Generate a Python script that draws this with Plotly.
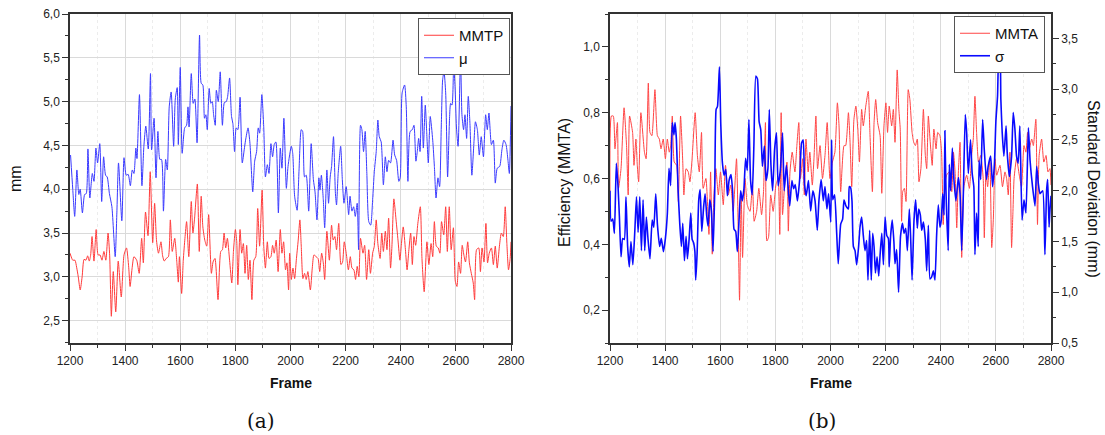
import plotly.graph_objects as go

# ---------------- Panel (a): MMTP and mean (mm) ----------------
mu_frames = [1202, 1210, 1217, 1225, 1232, 1237, 1245, 1253, 1259, 1265, 1272, 1281, 1287, 1294, 1300, 1308,
             1315, 1322, 1329, 1335, 1343, 1352, 1364, 1370, 1376, 1388, 1396, 1404, 1411, 1419, 1426, 1432,
             1439, 1443, 1452, 1461, 1468, 1475, 1484, 1492, 1496, 1505, 1512, 1519, 1526, 1532, 1539, 1547,
             1553, 1560, 1567, 1576, 1582, 1589, 1593, 1600, 1607, 1616, 1623, 1628, 1632, 1640, 1647, 1653,
             1661, 1670, 1676, 1682, 1688, 1693, 1698, 1705, 1711, 1716, 1721, 1727, 1731, 1738, 1745, 1753,
             1760, 1767, 1772, 1779, 1786, 1791, 1797, 1803, 1809, 1817, 1825, 1832, 1837, 1846, 1853, 1863,
             1870, 1877, 1883, 1888, 1896, 1903, 1909, 1916, 1922, 1929, 1935, 1941, 1947, 1956, 1963, 1969,
             1976, 1985, 1991, 2003, 2008, 2015, 2024, 2031, 2039, 2044, 2051, 2057, 2066, 2075, 2083, 2089,
             2096, 2103, 2107, 2112, 2119, 2124, 2132, 2138, 2144, 2149, 2156, 2163, 2167, 2173, 2182, 2188,
             2194, 2202, 2211, 2216, 2223, 2229, 2235, 2242, 2247, 2254, 2259, 2265, 2271, 2277, 2284, 2291,
             2298, 2304, 2311, 2317, 2322, 2329, 2337, 2344, 2350, 2356, 2363, 2372, 2378, 2385, 2393, 2398,
             2405, 2414, 2420, 2426, 2434, 2442, 2448, 2455, 2460, 2465, 2470, 2476, 2482, 2489, 2494, 2500,
             2507, 2516, 2522, 2528, 2535, 2541, 2547, 2552, 2557, 2563, 2570, 2577, 2581, 2586, 2592, 2597,
             2602, 2608, 2617, 2622, 2628, 2633, 2639, 2645, 2651, 2658, 2666, 2671, 2678, 2685, 2692, 2700,
             2708, 2714, 2720, 2729, 2736, 2743, 2750, 2759, 2767, 2774, 2782, 2789, 2794, 2800]
mu_values = [4.39, 4.00, 3.69, 4.22, 3.94, 4.00, 3.73, 3.94, 3.95, 4.46, 3.90, 4.18, 4.09, 4.47, 4.30, 4.52,
             3.86, 4.37, 4.16, 4.14, 3.95, 3.80, 3.23, 3.73, 4.30, 3.64, 4.36, 4.16, 4.17, 4.04, 4.22, 4.18,
             4.47, 4.35, 5.08, 4.04, 4.49, 4.72, 4.46, 5.32, 4.45, 4.81, 4.13, 4.66, 4.34, 4.34, 3.75, 4.34,
             4.22, 4.94, 5.11, 4.49, 5.03, 5.16, 4.51, 5.39, 4.41, 4.70, 4.73, 4.94, 4.71, 5.32, 4.98, 5.03,
             4.53, 5.76, 5.21, 5.19, 4.81, 4.85, 4.68, 5.15, 4.98, 5.00, 4.85, 4.73, 5.13, 5.00, 5.34, 4.73,
             4.99, 5.00, 5.06, 5.27, 4.83, 4.75, 4.43, 4.70, 4.68, 5.05, 4.30, 4.45, 4.56, 4.70, 4.52, 3.97,
             4.32, 4.43, 4.70, 4.64, 5.08, 4.70, 4.14, 4.28, 4.18, 4.52, 4.37, 4.51, 4.54, 3.73, 4.47, 4.24,
             4.81, 4.01, 4.26, 4.49, 4.41, 3.92, 3.76, 4.22, 4.68, 4.66, 4.14, 4.16, 3.75, 4.52, 4.11, 3.97,
             3.65, 4.13, 3.99, 4.16, 3.88, 3.56, 4.22, 3.84, 4.14, 4.26, 4.60, 3.95, 3.82, 4.18, 4.49, 4.11,
             3.84, 4.03, 3.71, 3.92, 3.75, 3.80, 3.69, 3.84, 3.31, 4.73, 4.68, 4.43, 4.66, 4.18, 3.63, 3.59,
             3.88, 4.20, 4.43, 4.79, 4.60, 4.54, 4.05, 4.37, 4.20, 4.33, 4.30, 4.56, 4.39, 4.33, 4.09, 4.13,
             5.10, 5.19, 4.94, 4.09, 4.66, 4.68, 4.73, 4.32, 4.43, 4.58, 4.43, 5.06, 4.47, 4.96, 4.66, 4.30,
             4.83, 4.56, 4.26, 3.90, 4.13, 4.03, 4.71, 5.25, 5.34, 5.10, 4.14, 4.81, 4.98, 4.96, 5.40, 5.17,
             4.71, 4.49, 5.51, 4.85, 4.68, 4.85, 4.58, 5.06, 4.75, 4.16, 4.56, 4.77, 4.68, 4.39, 4.60, 4.37,
             4.85, 4.68, 4.87, 4.51, 4.56, 4.07, 4.24, 4.26, 4.45, 4.56, 4.51, 4.33, 4.18, 4.95]

mmtp_frames = [1200, 1210, 1218, 1224, 1230, 1237, 1244, 1251, 1258, 1264, 1270, 1275, 1280, 1287, 1295, 1302,
               1309, 1316, 1323, 1330, 1338, 1344, 1350, 1357, 1366, 1375, 1386, 1396, 1405, 1413, 1418, 1425,
               1432, 1442, 1451, 1460, 1466, 1474, 1483, 1491, 1500, 1507, 1514, 1521, 1530, 1536, 1542, 1549,
               1557, 1564, 1571, 1580, 1588, 1593, 1597, 1605, 1611, 1617, 1623, 1631, 1640, 1646, 1652, 1662,
               1669, 1676, 1682, 1689, 1696, 1703, 1713, 1719, 1726, 1737, 1747, 1753, 1759, 1765, 1771, 1779,
               1787, 1793, 1800, 1805, 1809, 1817, 1823, 1829, 1835, 1841, 1847, 1853, 1860, 1867, 1874, 1881,
               1888, 1897, 1903, 1909, 1916, 1922, 1929, 1935, 1941, 1948, 1955, 1963, 1969, 1975, 1982, 1987,
               1993, 1997, 2003, 2009, 2015, 2021, 2028, 2034, 2039, 2045, 2051, 2057, 2063, 2072, 2079, 2085,
               2093, 2100, 2106, 2113, 2119, 2124, 2132, 2141, 2149, 2155, 2161, 2167, 2175, 2183, 2189, 2195,
               2203, 2210, 2217, 2223, 2230, 2236, 2242, 2248, 2254, 2263, 2269, 2276, 2284, 2290, 2298, 2304,
               2311, 2317, 2325, 2331, 2337, 2344, 2350, 2356, 2363, 2368, 2375, 2383, 2390, 2397, 2402, 2409,
               2417, 2423, 2429, 2436, 2442, 2448, 2454, 2462, 2471, 2477, 2485, 2495, 2502, 2510, 2516, 2522,
               2529, 2536, 2542, 2548, 2556, 2563, 2569, 2576, 2583, 2591, 2598, 2604, 2610, 2617, 2623, 2629,
               2635, 2643, 2649, 2656, 2663, 2668, 2675, 2683, 2689, 2695, 2702, 2709, 2715, 2721, 2729, 2736,
               2743, 2750, 2758, 2765, 2772, 2779, 2785, 2791, 2797, 2800]
mmtp_values = [3.27, 3.19, 3.19, 3.11, 3.00, 2.85, 3.00, 3.20, 3.19, 3.24, 3.18, 3.25, 3.46, 3.18, 3.54, 3.25,
               3.25, 3.19, 3.29, 3.19, 3.50, 3.24, 2.55, 3.06, 2.60, 3.18, 2.77, 3.25, 3.33, 3.11, 2.89, 3.09,
               3.23, 3.19, 3.04, 3.44, 3.16, 3.74, 3.47, 4.20, 3.39, 3.84, 3.41, 3.27, 3.40, 3.24, 3.18, 3.21,
               3.23, 3.65, 3.29, 3.44, 3.15, 2.94, 3.23, 2.81, 3.19, 3.44, 3.63, 3.23, 3.86, 3.50, 3.67, 4.06,
               3.29, 3.92, 3.57, 3.42, 3.35, 3.71, 3.04, 3.17, 3.21, 2.74, 3.29, 3.31, 3.50, 3.33, 3.44, 3.19,
               2.93, 3.29, 3.54, 3.40, 2.91, 3.54, 3.27, 3.38, 3.04, 3.36, 2.97, 3.19, 2.74, 3.19, 3.23, 3.78,
               3.35, 3.99, 3.35, 3.10, 3.40, 3.21, 3.23, 3.36, 3.27, 3.42, 3.06, 3.54, 3.27, 3.40, 3.08, 3.16,
               2.85, 3.27, 2.97, 3.10, 2.98, 3.19, 3.42, 3.65, 3.35, 2.98, 3.04, 2.97, 3.06, 2.85, 3.10, 3.25,
               3.23, 3.21, 3.06, 3.27, 3.16, 2.97, 3.52, 3.19, 3.59, 3.42, 3.46, 3.31, 3.61, 3.14, 3.17, 3.40,
               3.25, 3.08, 3.23, 3.10, 3.08, 2.97, 3.12, 3.00, 3.44, 3.27, 3.36, 2.97, 3.31, 3.04, 3.27, 3.35,
               3.65, 3.38, 3.21, 3.50, 3.29, 3.52, 3.31, 3.67, 3.10, 3.35, 3.89, 3.65, 3.42, 3.19, 3.36, 3.57,
               3.31, 3.08, 3.29, 3.50, 3.14, 3.46, 3.36, 3.61, 3.80, 3.21, 2.83, 3.40, 3.14, 3.38, 3.23, 3.63,
               3.35, 3.33, 3.27, 3.63, 3.48, 3.80, 3.29, 3.80, 3.31, 3.56, 2.95, 2.89, 3.17, 3.04, 3.36, 3.25,
               3.17, 3.40, 3.16, 3.04, 2.93, 2.74, 3.31, 3.33, 3.06, 3.33, 3.17, 3.61, 3.16, 3.27, 3.33, 3.14,
               3.35, 3.10, 3.35, 3.50, 3.46, 3.80, 3.38, 3.08, 3.21, 3.40]

# ---------------- Panel (b): MMTA efficiency and standard deviation ----------------
mmta_frames = [1200, 1205, 1212, 1218, 1227, 1231, 1240, 1251, 1260, 1266, 1271, 1282, 1287, 1294, 1299, 1304,
               1312, 1325, 1331, 1339, 1345, 1352, 1363, 1372, 1379, 1385, 1393, 1401, 1408, 1415, 1420, 1426,
               1433, 1442, 1448, 1456, 1464, 1468, 1476, 1484, 1490, 1497, 1509, 1517, 1524, 1532, 1538, 1548,
               1559, 1565, 1571, 1577, 1584, 1593, 1601, 1611, 1619, 1629, 1638, 1647, 1659, 1665, 1670, 1676,
               1681, 1690, 1698, 1708, 1717, 1723, 1732, 1740, 1750, 1757, 1764, 1769, 1775, 1783, 1792, 1802,
               1810, 1816, 1821, 1826, 1835, 1842, 1847, 1853, 1861, 1871, 1878, 1885, 1891, 1899, 1905, 1911,
               1919, 1925, 1934, 1940, 1947, 1953, 1962, 1971, 1980, 1988, 1998, 2007, 2016, 2025, 2031, 2037,
               2049, 2055, 2065, 2071, 2077, 2085, 2092, 2099, 2105, 2113, 2119, 2128, 2137, 2143, 2152, 2158,
               2164, 2171, 2180, 2186, 2194, 2201, 2207, 2213, 2222, 2228, 2234, 2242, 2248, 2253, 2258, 2262,
               2268, 2274, 2282, 2288, 2296, 2302, 2308, 2315, 2321, 2328, 2337, 2344, 2349, 2355, 2361, 2369,
               2375, 2383, 2389, 2397, 2403, 2409, 2414, 2421, 2431, 2440, 2446, 2452, 2458, 2464, 2470, 2476,
               2484, 2494, 2504, 2512, 2518, 2524, 2530, 2537, 2545, 2554, 2558, 2564, 2570, 2578, 2585, 2591,
               2597, 2603, 2615, 2624, 2633, 2639, 2645, 2651, 2657, 2662, 2666, 2675, 2685, 2693, 2702, 2709,
               2715, 2721, 2730, 2736, 2745, 2751, 2757, 2766, 2774, 2782, 2789, 2796, 2800]
mmta_values = [0.53, 0.79, 0.79, 0.69, 0.77, 0.57, 0.63, 0.815, 0.70, 0.55, 0.79, 0.74, 0.64, 0.72, 0.64, 0.59,
               0.80, 0.68, 0.66, 0.89, 0.74, 0.73, 0.87, 0.73, 0.72, 0.69, 0.72, 0.66, 0.72, 0.68, 0.70, 0.79,
               0.65, 0.64, 0.53, 0.79, 0.65, 0.55, 0.63, 0.62, 0.59, 0.65, 0.80, 0.67, 0.62, 0.74, 0.57, 0.60,
               0.43, 0.62, 0.37, 0.55, 0.63, 0.55, 0.62, 0.52, 0.64, 0.55, 0.58, 0.50, 0.66, 0.45, 0.23, 0.55,
               0.36, 0.60, 0.52, 0.50, 0.58, 0.47, 0.50, 0.57, 0.49, 0.56, 0.77, 0.41, 0.42, 0.55, 0.50, 0.58,
               0.60, 0.43, 0.80, 0.49, 0.60, 0.65, 0.44, 0.62, 0.68, 0.62, 0.70, 0.77, 0.60, 0.66, 0.55, 0.72,
               0.62, 0.68, 0.58, 0.66, 0.79, 0.63, 0.70, 0.60, 0.67, 0.77, 0.60, 0.65, 0.68, 0.83, 0.76, 0.56,
               0.70, 0.70, 0.80, 0.71, 0.575, 0.78, 0.82, 0.75, 0.65, 0.81, 0.76, 0.82, 0.865, 0.74, 0.56, 0.77,
               0.84, 0.77, 0.73, 0.555, 0.76, 0.83, 0.74, 0.82, 0.76, 0.81, 0.71, 0.93, 0.81, 0.75, 0.47, 0.56,
               0.57, 0.53, 0.87, 0.84, 0.74, 0.71, 0.70, 0.72, 0.59, 0.63, 0.81, 0.67, 0.63, 0.79, 0.72, 0.64,
               0.75, 0.69, 0.74, 0.73, 0.68, 0.46, 0.575, 0.61, 0.62, 0.56, 0.68, 0.62, 0.45, 0.62, 0.71, 0.36,
               0.575, 0.61, 0.57, 0.67, 0.72, 0.85, 0.74, 0.65, 0.67, 0.60, 0.42, 0.62, 0.575, 0.66, 0.39, 0.48,
               0.66, 0.61, 0.64, 0.575, 0.62, 0.60, 0.55, 0.68, 0.39, 0.50, 0.60, 0.66, 0.61, 0.575, 0.70, 0.68,
               0.74, 0.69, 0.72, 0.70, 0.78, 0.46, 0.67, 0.72, 0.65, 0.67, 0.62, 0.63, 0.58]

sigma_frames = [1200, 1204, 1210, 1216, 1223, 1229, 1234, 1240, 1246, 1252, 1258, 1264, 1270, 1276, 1283, 1290,
                1296, 1302, 1308, 1314, 1320, 1326, 1332, 1338, 1345, 1353, 1359, 1366, 1372, 1380, 1386, 1394,
                1401, 1408, 1414, 1420, 1426, 1432, 1436, 1441, 1447, 1453, 1459, 1464, 1470, 1476, 1481, 1487,
                1493, 1498, 1503, 1508, 1511, 1516, 1522, 1527, 1533, 1540, 1545, 1551, 1556, 1562, 1568, 1574,
                1580, 1585, 1590, 1597, 1602, 1608, 1614, 1620, 1626, 1632, 1639, 1645, 1650, 1656, 1662, 1668,
                1674, 1680, 1686, 1692, 1698, 1704, 1710, 1716, 1722, 1729, 1735, 1741, 1747, 1753, 1760, 1766,
                1773, 1778, 1784, 1790, 1797, 1804, 1810, 1818, 1826, 1832, 1840, 1846, 1852, 1860, 1866, 1872,
                1880, 1888, 1895, 1901, 1906, 1912, 1920, 1928, 1936, 1944, 1952, 1958, 1966, 1974, 1980, 1987,
                1993, 2001, 2004, 2008, 2015, 2022, 2028, 2037, 2044, 2049, 2056, 2065, 2068, 2073, 2078, 2083,
                2089, 2095, 2102, 2107, 2113, 2119, 2125, 2131, 2136, 2142, 2148, 2153, 2158, 2163, 2169, 2175,
                2180, 2186, 2192, 2198, 2204, 2210, 2213, 2218, 2224, 2230, 2234, 2240, 2247, 2254, 2261, 2267,
                2273, 2279, 2286, 2291, 2296, 2303, 2309, 2315, 2320, 2326, 2331, 2337, 2344, 2349, 2355, 2361,
                2367, 2373, 2379, 2385, 2391, 2397, 2402, 2407, 2412, 2415, 2419, 2427, 2431, 2436, 2442, 2448,
                2455, 2464, 2470, 2476, 2482, 2489, 2494, 2500, 2508, 2514, 2520, 2524, 2530, 2536, 2539, 2545,
                2552, 2558, 2566, 2572, 2581, 2588, 2595, 2600, 2606, 2611, 2615, 2618, 2623, 2629, 2637, 2641,
                2649, 2657, 2663, 2669, 2675, 2681, 2687, 2695, 2702, 2709, 2718, 2724, 2733, 2742, 2748, 2754,
                2760, 2770, 2778, 2784, 2788, 2793, 2796, 2800]
sigma_values = [2.00, 1.70, 1.72, 1.58, 2.27, 2.05, 1.75, 1.35, 1.53, 1.52, 1.94, 1.45, 1.25, 1.50, 1.27, 1.60,
                1.94, 1.59, 1.94, 1.41, 1.91, 1.41, 1.74, 1.52, 1.33, 1.71, 1.64, 1.97, 1.67, 1.45, 1.53, 1.40,
                1.53, 1.77, 2.22, 2.05, 2.67, 2.55, 2.67, 2.50, 2.01, 1.68, 1.45, 1.68, 1.31, 1.55, 1.33, 1.52,
                1.78, 1.52, 1.49, 1.40, 1.12, 1.38, 1.91, 2.01, 1.60, 1.85, 1.97, 1.75, 1.65, 1.91, 1.80, 1.40,
                2.00, 2.80, 2.83, 3.22, 2.65, 2.27, 2.15, 2.21, 1.95, 2.10, 2.16, 1.99, 1.62, 1.60, 1.40, 1.70,
                2.00, 1.90, 2.02, 2.32, 2.20, 2.70, 2.10, 1.96, 2.44, 3.13, 3.10, 2.68, 2.60, 2.24, 2.44, 2.10,
                2.22, 2.80, 2.25, 2.00, 2.40, 2.57, 2.05, 2.20, 2.57, 2.00, 2.25, 2.05, 1.85, 2.10, 2.02, 2.06,
                1.90, 2.11, 2.47, 2.50, 2.06, 1.95, 2.10, 1.80, 2.00, 1.90, 1.61, 1.90, 2.11, 1.90, 2.04, 1.82,
                1.97, 1.69, 2.50, 1.91, 1.96, 1.61, 1.28, 1.67, 1.72, 1.91, 1.85, 1.82, 2.04, 2.03, 1.90, 1.45,
                1.41, 1.27, 1.45, 1.64, 1.74, 1.56, 1.41, 1.51, 1.12, 1.61, 1.12, 1.58, 1.45, 1.19, 1.35, 1.16,
                1.37, 1.58, 1.27, 1.74, 1.56, 1.53, 1.25, 1.55, 1.71, 1.50, 1.28, 1.42, 1.00, 1.55, 1.68, 1.58,
                1.63, 1.41, 1.82, 1.52, 1.12, 1.71, 1.91, 1.63, 1.82, 1.76, 1.61, 1.69, 1.52, 1.21, 1.66, 1.13,
                1.15, 1.21, 1.12, 1.56, 1.86, 1.64, 1.71, 1.97, 1.76, 2.59, 2.00, 1.41, 2.26, 2.00, 2.42, 2.10,
                1.90, 2.13, 1.97, 1.41, 1.97, 2.75, 2.57, 2.17, 2.50, 2.17, 2.04, 1.37, 1.78, 1.45, 2.30, 2.11,
                2.70, 2.40, 2.11, 2.24, 2.34, 2.04, 2.28, 2.68, 2.93, 3.36, 3.34, 2.90, 2.57, 2.34, 2.64, 2.38,
                2.14, 2.34, 2.77, 2.61, 2.34, 2.27, 2.64, 1.71, 1.91, 1.78, 2.62, 2.30, 2.04, 1.85, 2.24, 2.07,
                1.97, 2.00, 1.37, 2.00, 2.11, 1.64, 1.80, 1.95]

RED = "#ff3b3b"
RED_B = "#ff4545"
BLUE_A = "#3a3aff"
BLUE_B = "#0a0aff"
AXIS = "#333333"
FONT = "Liberation Sans, Arial, sans-serif"
TICKFONT = dict(family=FONT, size=12, color="#222222")

fig = go.Figure()
fig.add_trace(go.Scatter(x=mmtp_frames, y=mmtp_values, name="MMTP", mode="lines",
                         line=dict(color=RED, width=1, shape="spline", smoothing=0.6),
                         xaxis="x", yaxis="y", legend="legend"))
fig.add_trace(go.Scatter(x=mu_frames, y=mu_values, name="\u03bc", mode="lines",
                         line=dict(color=BLUE_A, width=1, shape="spline", smoothing=0.6),
                         xaxis="x", yaxis="y", legend="legend"))
fig.add_trace(go.Scatter(x=mmta_frames, y=mmta_values, name="MMTA", mode="lines",
                         line=dict(color=RED_B, width=1, shape="spline", smoothing=0.5),
                         xaxis="x2", yaxis="y2", legend="legend2"))
fig.add_trace(go.Scatter(x=sigma_frames, y=sigma_values, name="\u03c3", mode="lines",
                         line=dict(color=BLUE_B, width=1.6, shape="spline", smoothing=0.5),
                         xaxis="x2", yaxis="y3", legend="legend2"))

W, H = 1105, 435
dom_y = [1 - 343 / H, 1 - 14 / H]


def xax(domain, anchor):
    return dict(domain=domain, anchor=anchor, range=[1200, 2800], dtick=200, tick0=0,
                tickformat="d", ticks="outside", ticklen=6, tickwidth=1.2, tickcolor=AXIS,
                showline=True, linecolor=AXIS, linewidth=1.5, mirror=True,
                showgrid=True, gridcolor="#dadada", gridwidth=1, zeroline=False,
                minor=dict(dtick=100, tick0=0, ticks="outside", ticklen=3, tickcolor=AXIS,
                           showgrid=True, gridcolor="#ececec", griddash="dot", gridwidth=1),
                tickfont=TICKFONT)


LEGEND_FONT = dict(family=FONT, size=15, color="#111111")

fig.update_layout(
    width=W, height=H, margin=dict(l=0, r=0, t=0, b=0, autoexpand=False),
    paper_bgcolor="white", plot_bgcolor="white", separators=", ",
    showlegend=True,
    xaxis=xax([70 / W, 511 / W], "y"),
    xaxis2=xax([610 / W, 1051 / W], "y2"),
    yaxis=dict(domain=dom_y, anchor="x", range=[2.245, 6.0], dtick=0.5, tick0=0, tickformat=".1f",
               ticks="outside", ticklen=6, tickwidth=1.2, tickcolor=AXIS,
               showline=True, linecolor=AXIS, linewidth=1.5, mirror=True,
               showgrid=True, gridcolor="#dadada", zeroline=False,
               minor=dict(dtick=0.25, ticks="outside", ticklen=3, tickcolor=AXIS, showgrid=False),
               tickfont=TICKFONT),
    yaxis2=dict(domain=dom_y, anchor="x2", range=[0.1, 1.1], dtick=0.2, tick0=0, tickformat=".1f",
                ticks="outside", ticklen=6, tickwidth=1.2, tickcolor=AXIS,
                showline=True, linecolor=AXIS, linewidth=1.5,
                showgrid=False, zeroline=False,
                minor=dict(dtick=0.1, ticks="outside", ticklen=3, tickcolor=AXIS, showgrid=False),
                tickfont=TICKFONT),
    yaxis3=dict(overlaying="y2", anchor="x2", side="right", range=[0.5, 3.74], dtick=0.5, tick0=0,
                tickformat=".1f", ticks="outside", ticklen=6, tickwidth=1.2, tickcolor=AXIS,
                showline=True, linecolor=AXIS, linewidth=1.5,
                showgrid=False, zeroline=False,
                minor=dict(dtick=0.25, ticks="outside", ticklen=3, tickcolor=AXIS, showgrid=False),
                tickfont=TICKFONT),
    legend=dict(x=418 / W, y=1 - 18 / H, xanchor="left", yanchor="top",
                bgcolor="white", bordercolor="#555555", borderwidth=1,
                font=LEGEND_FONT, tracegroupgap=0, itemwidth=30),
    legend2=dict(x=954 / W, y=1 - 16 / H, xanchor="left", yanchor="top",
                 bgcolor="white", bordercolor="#555555", borderwidth=1,
                 font=LEGEND_FONT, tracegroupgap=0, itemwidth=30),
)

LABEL = dict(family=FONT, size=16, color="#111111")
BOLD = dict(family=FONT, size=14, color="#111111")
SERIF = dict(family="DejaVu Serif, serif", size=20, color="#111111")

annotations = [
    dict(text="<b>Frame</b>", x=291 / W, y=1 - 383 / H, font=BOLD),
    dict(text="<b>Frame</b>", x=831 / W, y=1 - 383 / H, font=BOLD),
    dict(text="mm", x=15 / W, y=1 - 179 / H, font=LABEL, textangle=-90),
    dict(text="Efficiency (MMTA)", x=565 / W, y=1 - 183 / H, font=LABEL, textangle=-90),
    dict(text="Standard Deviation (mm)", x=1094 / W, y=1 - 189 / H, font=LABEL, textangle=90),
    dict(text="(a)", x=261 / W, y=1 - 421 / H, font=SERIF),
    dict(text="(b)", x=822 / W, y=1 - 421 / H, font=SERIF),
]
for a in annotations:
    a.update(xref="paper", yref="paper", showarrow=False, xanchor="center", yanchor="middle")
fig.update_layout(annotations=annotations)

fig.write_html("out.html")
